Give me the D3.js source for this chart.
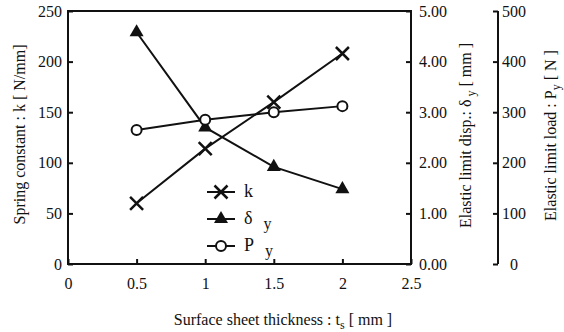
<!DOCTYPE html>
<html>
<head>
<meta charset="utf-8">
<script src="https://cdn.jsdelivr.net/npm/d3@7"></script>
<style>
  body { margin: 0; background: #fff; }
  svg text { font-family: "Liberation Serif", "Times New Roman", "DejaVu Serif", serif; fill: #111; }
</style>
</head>
<body>
<div id="chart"></div>
<script>
// thickness values and the three series
const thickness = [0.5, 1, 1.5, 2];
const springK = [60, 114, 160, 208];          // N/mm, left axis
const elasticDisp = [4.58, 2.70, 1.92, 1.48]; // mm, first right axis
const elasticLoad = [265, 285, 300, 312];     // N, second right axis

const xTicks = [0, 0.5, 1, 1.5, 2, 2.5];
const kTicks = [0, 50, 100, 150, 200, 250];
const dispTicks = [0, 1, 2, 3, 4, 5];
const loadTicks = [0, 100, 200, 300, 400, 500];

const W = 564, H = 332;
const plotL = 68, plotR = 411, plotT = 11, plotB = 264;
const loadAxisX = 498;
const serif = '"Liberation Serif", "Times New Roman", serif';

const svg = d3.select('#chart').append('svg')
  .attr('width', W).attr('height', H)
  .attr('font-family', serif);

const x = d3.scaleLinear().domain([0, 2.5]).range([plotL, plotR]);
const yK = d3.scaleLinear().domain([0, 250]).range([plotB, plotT]);
const yD = d3.scaleLinear().domain([0, 5]).range([plotB, plotT]);
const yP = d3.scaleLinear().domain([0, 500]).range([plotB, plotT]);

// frame
svg.append('rect')
  .attr('x', plotL).attr('y', plotT)
  .attr('width', plotR - plotL).attr('height', plotB - plotT)
  .attr('fill', 'none').attr('stroke', '#111').attr('stroke-width', 2);

function styleAxis(g) {
  g.attr('font-family', serif);
  g.select('.domain').remove();
  g.selectAll('line').attr('stroke', '#111').attr('stroke-width', 2);
  g.selectAll('text').style('font-size', '16px').attr('fill', '#111')
    .style('font-family', serif);
}

// bottom axis, ticks inward
svg.append('g')
  .attr('transform', `translate(0,${plotB})`)
  .call(d3.axisBottom(x).tickValues(xTicks).tickSize(-5).tickPadding(14)
    .tickFormat(d => d3.format('')(d)))
  .call(styleAxis);

// left axis
svg.append('g')
  .attr('transform', `translate(${plotL},0)`)
  .call(d3.axisLeft(yK).tickValues(kTicks).tickSize(-5).tickPadding(6))
  .call(styleAxis);

// first right axis (displacement) on the frame
svg.append('g')
  .attr('transform', `translate(${plotR},0)`)
  .call(d3.axisRight(yD).tickValues(dispTicks).tickSize(-5).tickPadding(8)
    .tickFormat(d3.format('.2f')))
  .call(styleAxis);

// second right axis (load), bracket style
const gP = svg.append('g')
  .attr('transform', `translate(${loadAxisX},0)`)
  .call(d3.axisRight(yP).tickValues(loadTicks).tickSize(-5).tickPadding(6))
  .call(styleAxis);
gP.append('line')
  .attr('x1', 0).attr('x2', 0).attr('y1', plotT).attr('y2', plotB)
  .attr('stroke', '#111').attr('stroke-width', 2);
gP.selectAll('.tick text').attr('x', d => d === 0 ? 12 : 4)
  .attr('text-anchor', 'start');

// axis titles
svg.append('text')
  .attr('transform', `translate(25,${(plotT + plotB) / 2 - 3}) rotate(-90)`)
  .attr('text-anchor', 'middle').style('font-size', '16px')
  .text('Spring constant : k [ N/mm]');

const dTitle = svg.append('text')
  .attr('transform', `translate(471,${(plotT + plotB) / 2 - 2}) rotate(-90)`)
  .attr('text-anchor', 'middle').style('font-size', '16px');
dTitle.append('tspan').text('Elastic limit disp.: δ');
dTitle.append('tspan').attr('dy', 4).style('font-size', '12px').text(' y');
dTitle.append('tspan').attr('dy', -4).text(' [ mm ]');

const pTitle = svg.append('text')
  .attr('transform', `translate(556,${(plotT + plotB) / 2 - 2}) rotate(-90)`)
  .attr('text-anchor', 'middle').style('font-size', '16px');
pTitle.append('tspan').text('Elastic limit load : P');
pTitle.append('tspan').attr('dy', 4).style('font-size', '12px').text('y');
pTitle.append('tspan').attr('dy', -4).text(' [ N ]');

const xTitle = svg.append('text')
  .attr('x', 283).attr('y', 325)
  .attr('text-anchor', 'middle').style('font-size', '16px');
xTitle.append('tspan').text('Surface sheet thickness : t');
xTitle.append('tspan').attr('dy', 4).style('font-size', '12px').text('s');
xTitle.append('tspan').attr('dy', -4).text(' [ mm ]');

// markers
function drawMarker(g, type, cx, cy) {
  if (type === 'x') {
    const s = 6.5;
    g.append('path')
      .attr('d', `M${cx - s},${cy - s}L${cx + s},${cy + s}M${cx - s},${cy + s}L${cx + s},${cy - s}`)
      .attr('stroke', '#111').attr('stroke-width', 2.5);
  } else if (type === 'tri') {
    g.append('path')
      .attr('d', d3.symbol().type(d3.symbolTriangle).size(85)())
      .attr('transform', `translate(${cx},${cy})`)
      .attr('fill', '#111');
  } else {
    g.append('circle').attr('cx', cx).attr('cy', cy).attr('r', 5)
      .attr('fill', '#fff').attr('stroke', '#111').attr('stroke-width', 2);
  }
}

const seriesList = [
  { values: springK, y: yK, type: 'x' },
  { values: elasticDisp, y: yD, type: 'tri' },
  { values: elasticLoad, y: yP, type: 'o' }
];

seriesList.forEach(s => {
  const pts = thickness.map((t, i) => [x(t), s.y(s.values[i])]);
  const g = svg.append('g');
  g.append('path')
    .attr('d', d3.line()(pts))
    .attr('fill', 'none').attr('stroke', '#111').attr('stroke-width', 2);
  pts.forEach(p => drawMarker(g, s.type, p[0], p[1]));
});

// legend
const legend = svg.append('g').attr('transform', 'translate(207,192)');
const legendRows = [
  { type: 'x', label: 'k', sub: '' },
  { type: 'tri', label: 'δ', sub: 'y' },
  { type: 'o', label: 'P', sub: 'y' }
];
legendRows.forEach((r, i) => {
  const gy = i * 27;
  const g = legend.append('g');
  g.append('line').attr('x1', 0).attr('x2', 28).attr('y1', gy).attr('y2', gy)
    .attr('stroke', '#111').attr('stroke-width', 2);
  drawMarker(g, r.type, 14, gy);
  const t = g.append('text').attr('x', 37).attr('y', gy + 5).style('font-size', '18px');
  t.append('tspan').text(r.label);
  if (r.sub) t.append('tspan').attr('dx', 11).attr('dy', 5).style('font-size', '16px').text(r.sub);
});
</script>
</body>
</html>
